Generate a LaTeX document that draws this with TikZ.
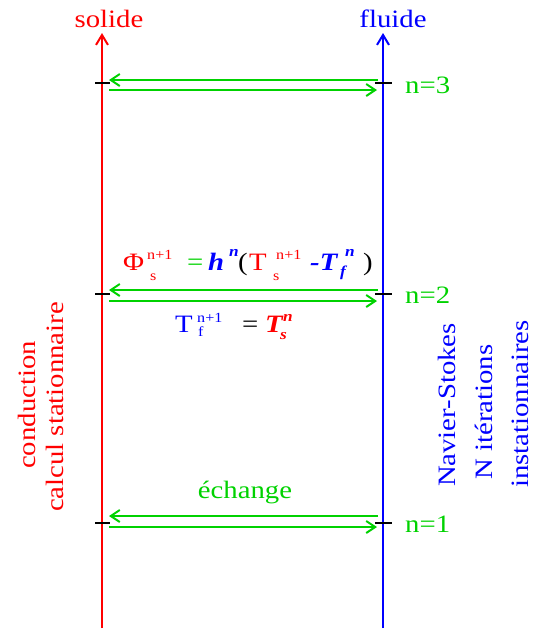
\documentclass[tikz,border=0pt]{standalone}
\usepackage{fontspec}
\setmainfont{Liberation Serif}[FakeStretch=1.15]
\usetikzlibrary{arrows.meta}
\definecolor{gr}{RGB}{0,210,0}
\tikzset{
  axisline/.style={line width=2pt,-{Straight Barb[length=10pt,width=12pt]}},
  xch/.style={gr,line width=2pt,-{Straight Barb[length=9pt,width=12pt]}},
  tickline/.style={black,line width=2pt},
  lab/.style={inner sep=0pt,font=\fontsize{25}{29}\selectfont},
  pc/.style={lab,anchor=base west},
  bi/.style={pc,font=\fontsize{25}{29}\selectfont\bfseries\itshape},
  sp/.style={inner sep=0pt,font=\fontsize{14}{16}\selectfont,anchor=base west},
  spbi/.style={sp,font=\fontsize{15}{17}\selectfont\bfseries\itshape},
  vlab/.style={lab,rotate=90,anchor=base},
}
\begin{document}
\begin{tikzpicture}[x=1pt,y=-1pt]
\useasboundingbox (0,0) rectangle (544,630);
% axes
\coordinate (sb) at (102,628); \coordinate (st) at (102,33);
\coordinate (fb) at (383,628); \coordinate (ft) at (383,33);
\draw[axisline,red] (sb) -- (st);
\draw[axisline,blue] (fb) -- (ft);
\node[lab,red,anchor=base] (solide) at (109,27) {solide};
\node[lab,blue,anchor=base] (fluide) at (393,27) {fluide};
% ticks
\foreach \n/\y in {3/83,2/294,1/523}{
  \coordinate (sl\n) at (95,\y); \coordinate (sr\n) at (110,\y);
  \coordinate (fl\n) at (375,\y); \coordinate (fr\n) at (392,\y);
  \draw[tickline] (sl\n) -- (sr\n);
  \draw[tickline] (fl\n) -- (fr\n);
}
% exchange arrows
\foreach \n/\a/\b in {3/80/90,2/290/301,1/516/527}{
  \coordinate (ua\n) at (378,\a); \coordinate (ub\n) at (109,\a);
  \coordinate (la\n) at (109,\b); \coordinate (lb\n) at (377,\b);
  \draw[xch] (ua\n) -- (ub\n);
  \draw[xch] (la\n) -- (lb\n);
}
\node[pc,gr] (n3) at (405,93) {n=3};
\node[pc,gr] (n2) at (405,303) {n=2};
\node[pc,gr] (n1) at (405,532) {n=1};
\node[lab,gr,anchor=base] (ech) at (245,498) {échange};
% formula 1
\node[pc,red] (phi) at (123,270) {Φ};
\node[sp,red] (phisup) at (147,259) {n+1};
\node[sp,red] (phisub) at (150,280) {s};
\node[pc,gr] (eq1) at (187,270) {=};
\node[bi,blue] (h) at (208,270) {h};
\node[spbi,blue] (hsup) at (229,256) {n};
\node[pc,black] (lp) at (238,270) {(};
\node[pc,red] (ts) at (249,270) {T};
\node[sp,red] (tssub) at (273,280) {s};
\node[sp,red] (tssup) at (276,259) {n+1};
\node[bi,blue] (mtf) at (310,270) {-T};
\node[spbi,blue] (tfsup) at (345,256) {n};
\node[spbi,blue] (tfsub) at (340,276) {f};
\node[pc,black] (rp) at (363,270) {)};
% formula 2
\node[pc,blue] (tf2) at (175,332) {T};
\node[sp,blue] (tf2sup) at (197,322) {n+1};
\node[sp,blue] (tf2sub) at (198,336) {f};
\node[pc,black] (eq2) at (242,332) {=};
\node[bi,red] (ts2) at (265,332) {T};
\node[spbi,red] (ts2sup) at (283,321) {n};
\node[spbi,red] (ts2sub) at (280,339) {s};
% vertical labels
\node[vlab,red] (cond) at (35,405) {conduction};
\node[vlab,red] (calc) at (63,407) {calcul stationnaire};
\node[vlab,blue] (ns) at (455,405) {Navier-Stokes};
\node[vlab,blue] (nit) at (492,412) {N itérations};
\node[vlab,blue] (inst) at (528,404) {instationnaires};
\end{tikzpicture}
\end{document}
